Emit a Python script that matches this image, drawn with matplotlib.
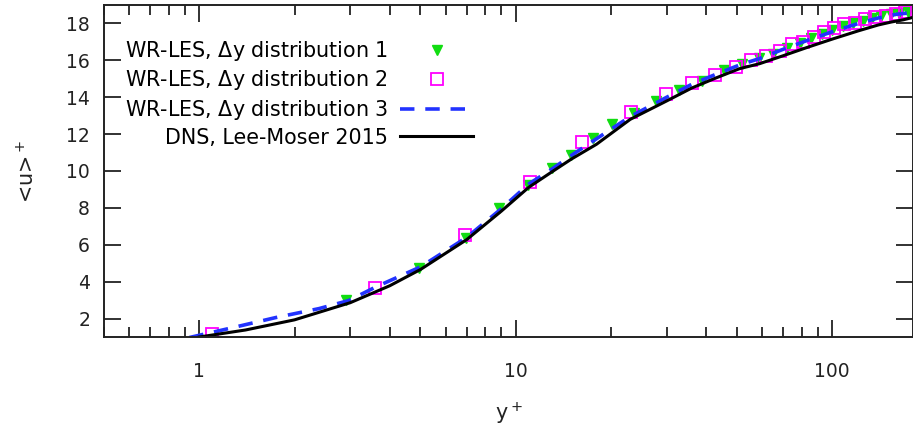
#!/usr/bin/env python3
import matplotlib
matplotlib.use("Agg")
import matplotlib.pyplot as plt
import matplotlib.ticker as ticker

# WR-LES, dy distribution 1 (filled triangles)
yp_les1 = [2.9, 4.94, 6.95, 8.84, 10.9, 13.0, 15.0, 17.6, 20.1, 23.6, 27.7, 32.7,
           38.7, 45.4, 52.0, 58.5, 65.0, 72.0, 79.0, 86.0, 93.0, 100.0, 108.0,
           116.0, 125.0, 134.0, 143.0, 153.0, 163.0, 173.0]
up_les1 = [2.98, 4.72, 6.35, 7.99, 9.25, 10.16, 10.87, 11.8, 12.56, 13.15, 13.81,
           14.41, 14.9, 15.45, 15.8, 16.1, 16.35, 16.65, 16.95, 17.2, 17.45, 17.65,
           17.85, 18.0, 18.15, 18.3, 18.4, 18.5, 18.55, 18.6]

# WR-LES, dy distribution 2 (open squares)
yp_les2 = [1.1, 3.6, 6.9, 11.1, 16.2, 23.1, 29.8, 36.0, 42.5, 49.6, 55.3, 61.7,
           68.5, 74.5, 81.0, 87.5, 94.0, 101.0, 109.0, 118.0, 127.0, 137.0,
           148.0, 159.0, 170.0]
up_les2 = [1.15, 3.63, 6.52, 9.40, 11.58, 13.21, 14.19, 14.79, 15.22, 15.66, 16.04,
           16.26, 16.48, 16.86, 17.02, 17.29, 17.56, 17.78, 17.95, 18.05, 18.22,
           18.33, 18.39, 18.49, 18.6]

# WR-LES, dy distribution 3 (dashed line)
yp_les3 = [0.93, 1.27, 1.74, 2.39, 2.97, 3.6, 5.0, 7.0, 9.0, 11.0, 13.0, 15.0,
           18.0, 23.0, 30.0, 36.0, 43.0, 51.0, 59.0, 70.0, 84.0, 100.0, 121.0,
           140.0, 160.0, 182.0]
up_les3 = [0.97, 1.5, 2.05, 2.54, 2.98, 3.7, 4.8, 6.4, 7.95, 9.3, 10.1, 10.85,
           11.75, 12.95, 14.0, 14.7, 15.25, 15.75, 16.1, 16.6, 17.1, 17.55, 18.0,
           18.3, 18.5, 18.6]

# DNS, Lee & Moser 2015
yp_dns = [1.0, 1.4, 2.0, 3.0, 4.0, 5.0, 7.0, 9.0, 11.0, 13.0, 15.0, 18.0, 23.0,
          30.0, 36.0, 43.0, 51.0, 59.0, 70.0, 84.0, 100.0, 121.0, 140.0, 154.0,
          168.0, 182.0]
up_dns = [1.0, 1.38, 1.93, 2.86, 3.78, 4.66, 6.28, 7.82, 9.12, 9.95, 10.65, 11.45,
          12.8, 13.8, 14.5, 15.05, 15.55, 15.82, 16.25, 16.72, 17.15, 17.6, 17.92,
          18.08, 18.2, 18.35]

y_ticks = [2, 4, 6, 8, 10, 12, 14, 16, 18]
x_ticks = [1, 10, 100]

FS = 13.5
KEY_FS = 14.9
plt.rcParams['font.family'] = ['DejaVu Sans']
plt.rcParams['font.size'] = FS

fig = plt.figure(figsize=(9.13, 4.34), dpi=100)
ax = fig.add_axes([104 / 913, 97 / 434, 809 / 913, 332 / 434])

ax.plot(yp_les1, up_les1, linestyle='none', marker='v', color='#11dd11',
        markersize=6.5, label=r'WR-LES, $\Delta$y distribution 1')
ax.plot(yp_les2, up_les2, linestyle='none', marker='s', markerfacecolor='none',
        markeredgecolor='#ff00ff', markeredgewidth=1.3, markersize=8,
        label=r'WR-LES, $\Delta$y distribution 2')
ax.plot(yp_les3, up_les3, linestyle=(0, (4, 3)), color='#2233ff', linewidth=2.6,
        label=r'WR-LES, $\Delta$y distribution 3')
ax.plot(yp_dns, up_dns, color='black', linewidth=2.2,
        label='DNS, Lee-Moser 2015')

ax.set_xscale('log')
ax.set_xlim(0.5, 180)
ax.set_ylim(1, 19)
ax.set_yticks(y_ticks)
ax.xaxis.set_major_locator(ticker.FixedLocator(x_ticks))
ax.xaxis.set_major_formatter(ticker.FuncFormatter(lambda v, _: f'{v:g}'))
ax.xaxis.set_minor_locator(ticker.LogLocator(base=10, subs=range(2, 10)))
ax.xaxis.set_minor_formatter(ticker.NullFormatter())

ax.tick_params(which='both', direction='in', top=True, right=True,
               color='#222222', labelcolor='#222222', width=1.3)
ax.tick_params(which='major', length=12)
ax.tick_params(which='minor', length=7)
ax.tick_params(axis='x', which='major', pad=18)
ax.tick_params(axis='y', which='major', pad=10)
for sp in ax.spines.values():
    sp.set_linewidth(1.4)
    sp.set_color('#222222')

ax.set_xlabel('y$^+$', labelpad=14, color='#222222', fontsize=KEY_FS)
ax.set_ylabel('<u>$^+$', labelpad=20, color='#222222', fontsize=KEY_FS)

# gnuplot-style key: right-aligned text with the sample on the right
ax.legend(loc='upper right', bbox_to_anchor=(0.456, 0.898), frameon=False,
          markerfirst=False, handlelength=3.5, handletextpad=0.6,
          labelspacing=0.27, borderpad=0, borderaxespad=0, numpoints=1,
          fontsize=KEY_FS)

fig.savefig('out.png', dpi=100)
